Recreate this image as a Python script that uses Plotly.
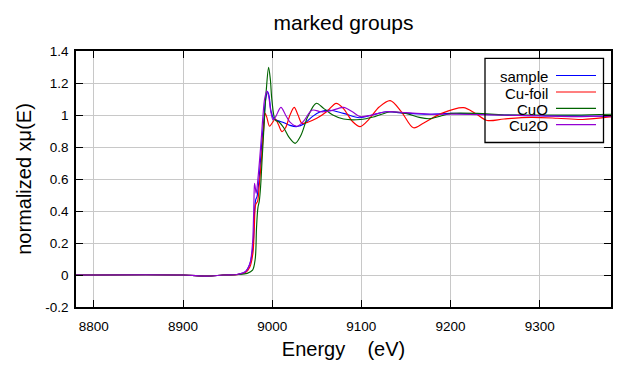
import plotly.graph_objects as go

title_text = "marked groups"
x_title = "Energy\u00a0\u00a0\u00a0\u00a0(eV)"
y_title = "normalized x\u03bc(E)"
names = ["sample", "Cu-foil", "CuO", "Cu2O"]
colors = ["#0000ff", "#ff0000", "#006400", "#9400d3"]

energy_sample = [8780, 8900, 8927, 8945, 8962, 8970, 8975, 8978.5, 8980.5, 8981.5, 8983, 8985, 8987, 8989,
                 8990.5, 8992.5, 8994.8, 8996.5, 8998.5, 9001.5, 9006, 9012, 9020, 9028, 9036, 9045, 9054,
                 9065, 9080, 9098, 9112, 9128, 9150, 9178, 9200, 9230, 9260, 9300, 9340, 9380]
mu_sample = [0, 0, -0.007, 0, 0.005, 0.02, 0.07, 0.18, 0.42, 0.47, 0.49, 0.58, 0.72, 0.87,
             0.96, 1.09, 1.146, 1.12, 1.03, 0.98, 0.965, 0.955, 0.935, 0.928, 0.945, 0.99, 1.02,
             1.03, 1.01, 0.983, 1.0, 1.02, 1.01, 1.005, 1.01, 1.005, 1.0, 0.995, 0.995, 0.99]

energy_foil = [8780, 8900, 8927, 8945, 8962, 8970, 8975, 8978.5, 8980, 8981.5, 8983.6, 8985.5, 8987.4, 8989,
               8990.4, 8992.2, 8994, 8997, 9000, 9003.5, 9007, 9011, 9015, 9020, 9024.7, 9029, 9033.4,
               9040, 9050, 9061, 9071.8, 9080, 9090, 9098.7, 9108, 9120, 9132.4, 9145, 9158.5, 9170,
               9190, 9214.5, 9228, 9241, 9260, 9290, 9320, 9348, 9380]
mu_foil = [0, 0, -0.007, 0, 0.004, 0.015, 0.05, 0.14, 0.3, 0.44, 0.46, 0.56, 0.68, 0.8,
           0.906, 1.01, 0.985, 0.93, 0.95, 0.975, 0.94, 0.896, 0.92, 1.0, 1.048, 1.0, 0.948,
           0.955, 0.979, 1.02, 1.073, 1.04, 0.96, 0.927, 0.97, 1.05, 1.09, 1.02, 0.92, 0.95,
           1.01, 1.046, 1.01, 0.966, 0.975, 0.985, 0.98, 0.972, 0.99]

energy_cuo = [8780, 8900, 8927, 8945, 8962, 8972, 8978, 8981, 8982.5, 8984, 8985.5, 8987, 8988.5,
              8990.4, 8993.4, 8996, 8998, 8999.7, 9003.4, 9008, 9013, 9019, 9025.8, 9032, 9040,
              9049.4, 9058, 9068, 9080, 9098.7, 9115, 9133, 9150, 9165, 9177, 9190, 9201, 9230,
              9260, 9300, 9340, 9380]
mu_cuo = [0, 0, -0.007, 0, 0.003, 0.01, 0.03, 0.1, 0.3, 0.42, 0.46, 0.55, 0.7,
          0.886, 1.156, 1.298, 1.22, 1.094, 0.97, 0.955, 0.92, 0.86, 0.823, 0.87, 0.99,
          1.073, 1.04, 1.0, 0.975, 0.972, 0.99, 1.02, 1.01, 0.985, 0.977, 0.995, 1.01, 1.01,
          1.0, 1.0, 1.0, 1.005]

energy_cu2o = [8780, 8900, 8927, 8945, 8962, 8970, 8975, 8978, 8979.5, 8980.2, 8981, 8982.1, 8984,
               8985.9, 8988, 8989.6, 8991.5, 8994, 8996, 8998.5, 9001, 9004, 9009.8, 9015, 9020,
               9027.7, 9035, 9044.6, 9055, 9065, 9080, 9090, 9098.7, 9112, 9128, 9150, 9180, 9210,
               9250, 9300, 9340, 9380]
mu_cu2o = [0, 0, -0.007, 0, 0.005, 0.02, 0.07, 0.2, 0.45, 0.573, 0.55, 0.51, 0.6,
           0.72, 0.87, 0.99, 1.1, 1.15, 1.12, 1.02, 0.97, 0.99, 1.048, 1.0, 0.955,
           0.93, 0.96, 1.03, 1.02, 1.025, 1.048, 1.02, 0.99, 1.0, 1.02, 1.015, 1.005, 1.005,
           1.0, 0.995, 0.99, 0.995]

x_range = [8780, 9380]
y_range = [-0.2, 1.4]
x_ticks = [8800, 8900, 9000, 9100, 9200, 9300]
y_ticks = [-0.2, 0, 0.2, 0.4, 0.6, 0.8, 1.0, 1.2, 1.4]
y_ticklabels = ["-0.2", "0", "0.2", "0.4", "0.6", "0.8", "1", "1.2", "1.4"]

series = [(energy_sample, mu_sample), (energy_foil, mu_foil), (energy_cuo, mu_cuo), (energy_cu2o, mu_cu2o)]

FONT = "Liberation Sans, Arial, sans-serif"
fig = go.Figure()
for (ex, mu), nm, col in zip(series, names, colors):
    fig.add_trace(go.Scatter(x=ex, y=mu, mode="lines", name=nm,
                             line=dict(color=col, width=1.15, shape="spline", smoothing=0.9),
                             showlegend=False))

# page body has an 8px margin: figure origin sits at (8, 8) in the window
OFF = 8
FW, FH = 635 - OFF, 365 - OFF
# plot area in window pixels
L, R, T, B = 76, 611, 51, 307
W, H = R - L, B - T
def px(x): return (x - L) / W
def py(y): return (B - y) / H

shapes = [dict(type="rect", xref="paper", yref="paper", x0=px(485), x1=px(603.5), y0=py(142.5), y1=py(58.3),
               line=dict(color="black", width=1.3), fillcolor="rgba(0,0,0,0)", layer="above")]
annotations = []
rows = [76.5, 93, 109.3, 125.6]
for nm, col, ry in zip(names, colors, rows):
    annotations.append(dict(text=nm, xref="paper", yref="paper", x=px(550), y=py(ry), xanchor="right",
                            yanchor="middle", showarrow=False, font=dict(family=FONT, size=15, color="black")))
    shapes.append(dict(type="line", xref="paper", yref="paper", x0=px(556), x1=px(596), y0=py(ry - 1), y1=py(ry - 1),
                       line=dict(color=col, width=1.2), layer="above"))

fig.update_layout(
    width=FW, height=FH,
    margin=dict(l=L - OFF, r=635 - R, t=T - OFF, b=365 - B, autoexpand=False),
    paper_bgcolor="white", plot_bgcolor="white",
    title=dict(text=title_text, x=((L + R) / 2 - OFF) / FW, xanchor="center", y=1 - (23 - OFF) / FH,
               yanchor="middle", font=dict(family=FONT, size=21, color="black")),
    font=dict(family=FONT, size=13, color="black"),
    shapes=shapes, annotations=annotations,
)
fig.update_xaxes(range=x_range, tickmode="array", tickvals=x_ticks, ticks="inside", ticklen=7,
                 tickcolor="black", mirror="ticks", showline=True, linecolor="black", linewidth=1.5,
                 showgrid=True, gridcolor="#c8c8c8", gridwidth=1, zeroline=False,
                 title=dict(text=x_title, font=dict(family=FONT, size=20), standoff=9),
                 tickfont=dict(size=13.5), ticklabelstandoff=6)
fig.update_yaxes(range=y_range, tickmode="array", tickvals=y_ticks, ticktext=y_ticklabels, ticks="inside",
                 ticklen=7, tickcolor="black", mirror="ticks", showline=True, linecolor="black", linewidth=1.5,
                 showgrid=True, gridcolor="#c8c8c8", gridwidth=1, zeroline=False,
                 title=dict(text=y_title, font=dict(family=FONT, size=20), standoff=8),
                 tickfont=dict(size=13.5), ticklabelstandoff=3)

fig.write_html("out.html")
